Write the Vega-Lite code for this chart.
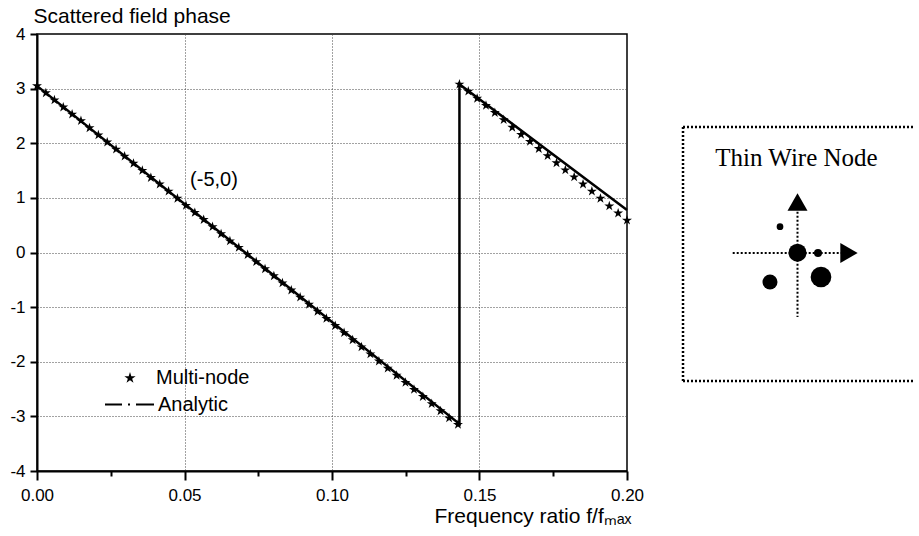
{
  "$schema": "https://vega.github.io/schema/vega-lite/v6.json",
  "background": "white",
  "padding": {"left": 9, "top": 4, "right": 0, "bottom": 0},
  "spacing": 20,
  "bounds": "flush",
  "resolve": {"scale": {"shape": "independent", "size": "independent", "color": "independent"}, "legend": {"shape": "independent", "size": "independent", "color": "independent"}},
  "config": {"font": "Liberation Sans", "view": {"stroke": null}},
  "datasets": {
    "analytic": [
      {"i": 0, "f": 0, "phase": 3.05, "lseries": "Analytic"},
      {"i": 1, "f": 0.1432, "phase": -3.14, "lseries": "Analytic"},
      {"i": 2, "f": 0.1432, "phase": 3.08, "lseries": "Analytic"},
      {"i": 3, "f": 0.2, "phase": 0.78, "lseries": "Analytic"}
    ],
    "multinode": [
      {"f": 0, "phase": 3.05, "series": "Multi-node"},
      {"f": 0.0030, "phase": 2.92, "series": "Multi-node"},
      {"f": 0.0059, "phase": 2.79, "series": "Multi-node"},
      {"f": 0.0089, "phase": 2.66, "series": "Multi-node"},
      {"f": 0.0119, "phase": 2.53, "series": "Multi-node"},
      {"f": 0.0149, "phase": 2.41, "series": "Multi-node"},
      {"f": 0.0178, "phase": 2.28, "series": "Multi-node"},
      {"f": 0.0208, "phase": 2.15, "series": "Multi-node"},
      {"f": 0.0238, "phase": 2.02, "series": "Multi-node"},
      {"f": 0.0268, "phase": 1.89, "series": "Multi-node"},
      {"f": 0.0297, "phase": 1.76, "series": "Multi-node"},
      {"f": 0.0327, "phase": 1.63, "series": "Multi-node"},
      {"f": 0.0357, "phase": 1.50, "series": "Multi-node"},
      {"f": 0.0386, "phase": 1.37, "series": "Multi-node"},
      {"f": 0.0416, "phase": 1.25, "series": "Multi-node"},
      {"f": 0.0446, "phase": 1.12, "series": "Multi-node"},
      {"f": 0.0476, "phase": 0.99, "series": "Multi-node"},
      {"f": 0.0505, "phase": 0.86, "series": "Multi-node"},
      {"f": 0.0535, "phase": 0.73, "series": "Multi-node"},
      {"f": 0.0565, "phase": 0.60, "series": "Multi-node"},
      {"f": 0.0595, "phase": 0.47, "series": "Multi-node"},
      {"f": 0.0624, "phase": 0.34, "series": "Multi-node"},
      {"f": 0.0654, "phase": 0.21, "series": "Multi-node"},
      {"f": 0.0684, "phase": 0.09, "series": "Multi-node"},
      {"f": 0.0714, "phase": -0.04, "series": "Multi-node"},
      {"f": 0.0743, "phase": -0.17, "series": "Multi-node"},
      {"f": 0.0773, "phase": -0.30, "series": "Multi-node"},
      {"f": 0.0803, "phase": -0.43, "series": "Multi-node"},
      {"f": 0.0832, "phase": -0.56, "series": "Multi-node"},
      {"f": 0.0862, "phase": -0.69, "series": "Multi-node"},
      {"f": 0.0892, "phase": -0.82, "series": "Multi-node"},
      {"f": 0.0922, "phase": -0.95, "series": "Multi-node"},
      {"f": 0.0951, "phase": -1.08, "series": "Multi-node"},
      {"f": 0.0981, "phase": -1.21, "series": "Multi-node"},
      {"f": 0.1011, "phase": -1.34, "series": "Multi-node"},
      {"f": 0.1041, "phase": -1.47, "series": "Multi-node"},
      {"f": 0.1070, "phase": -1.60, "series": "Multi-node"},
      {"f": 0.1100, "phase": -1.73, "series": "Multi-node"},
      {"f": 0.1130, "phase": -1.86, "series": "Multi-node"},
      {"f": 0.1159, "phase": -1.99, "series": "Multi-node"},
      {"f": 0.1189, "phase": -2.12, "series": "Multi-node"},
      {"f": 0.1219, "phase": -2.25, "series": "Multi-node"},
      {"f": 0.1249, "phase": -2.38, "series": "Multi-node"},
      {"f": 0.1278, "phase": -2.51, "series": "Multi-node"},
      {"f": 0.1308, "phase": -2.64, "series": "Multi-node"},
      {"f": 0.1338, "phase": -2.77, "series": "Multi-node"},
      {"f": 0.1368, "phase": -2.90, "series": "Multi-node"},
      {"f": 0.1397, "phase": -3.03, "series": "Multi-node"},
      {"f": 0.1427, "phase": -3.15, "series": "Multi-node"},
      {"f": 0.1432, "phase": 3.08, "series": "Multi-node"},
      {"f": 0.1462, "phase": 2.95, "series": "Multi-node"},
      {"f": 0.1492, "phase": 2.82, "series": "Multi-node"},
      {"f": 0.1522, "phase": 2.69, "series": "Multi-node"},
      {"f": 0.1552, "phase": 2.56, "series": "Multi-node"},
      {"f": 0.1582, "phase": 2.43, "series": "Multi-node"},
      {"f": 0.1611, "phase": 2.29, "series": "Multi-node"},
      {"f": 0.1641, "phase": 2.16, "series": "Multi-node"},
      {"f": 0.1671, "phase": 2.03, "series": "Multi-node"},
      {"f": 0.1701, "phase": 1.90, "series": "Multi-node"},
      {"f": 0.1731, "phase": 1.77, "series": "Multi-node"},
      {"f": 0.1761, "phase": 1.64, "series": "Multi-node"},
      {"f": 0.1791, "phase": 1.51, "series": "Multi-node"},
      {"f": 0.1821, "phase": 1.38, "series": "Multi-node"},
      {"f": 0.1851, "phase": 1.25, "series": "Multi-node"},
      {"f": 0.1881, "phase": 1.12, "series": "Multi-node"},
      {"f": 0.1910, "phase": 0.99, "series": "Multi-node"},
      {"f": 0.1940, "phase": 0.85, "series": "Multi-node"},
      {"f": 0.1970, "phase": 0.72, "series": "Multi-node"},
      {"f": 0.2000, "phase": 0.59, "series": "Multi-node"}
    ],
    "annotation": [{"f": 0.06, "phase": 1.33, "label": "(-5,0)"}],
    "boxlines": [
      {"u": 36, "v": 93, "u2": 268, "v2": 93},
      {"u": 36, "v": 93, "u2": 36, "v2": 347},
      {"u": 36, "v": 347, "u2": 268, "v2": 347}
    ],
    "axislines": [
      {"u": 85.7, "v": 219, "u2": 194, "v2": 219},
      {"u": 150.5, "v": 177.7, "u2": 150.5, "v2": 283}
    ],
    "arrows": [
      {"u": 150.5, "v": 168, "dir": "up"},
      {"u": 202, "v": 219, "dir": "right"}
    ],
    "nodes": [
      {"u": 150.5, "v": 218.7, "d": 18},
      {"u": 133, "v": 192.7, "d": 6.7},
      {"u": 171, "v": 219, "d": 8},
      {"u": 123, "v": 248, "d": 15},
      {"u": 174, "v": 243, "d": 20.7}
    ],
    "boxlabel": [{"u": 149.5, "v": 132, "label": "Thin Wire Node"}]
  },
  "hconcat": [
    {
      "width": 590,
      "height": 437,
      "view": {"stroke": "black", "strokeWidth": 1.5},
      "layer": [
        {
          "data": {"name": "analytic"},
          "mark": {"type": "line", "strokeWidth": 2.5},
          "encoding": {
            "x": {
              "field": "f", "type": "quantitative",
              "scale": {"domain": [0, 0.2], "nice": false, "zero": false},
              "axis": {
                "values": [0, 0.025, 0.05, 0.075, 0.1, 0.125, 0.15, 0.175, 0.2],
                "labelExpr": "abs(datum.value*20 - round(datum.value*20)) < 0.001 ? format(datum.value, '.2f') : ''",
                "tickSize": {"condition": {"test": "abs(datum.value*20 - round(datum.value*20)) < 0.001", "value": 9}, "value": 5},
                "gridOpacity": {"condition": {"test": "abs(datum.value*20 - round(datum.value*20)) < 0.001 && datum.value > 0.01 && datum.value < 0.19", "value": 1}, "value": 0},
                "grid": true,
                "gridDash": [1, 2],
                "gridColor": "#444",
                "gridWidth": 1,
                "tickColor": "black",
                "tickWidth": 2,
                "domainColor": "black",
                "domainWidth": 2,
                "labelFontSize": 17,
                "labelColor": "black",
                "labelPadding": 7,
                "labelFlush": false,
                "labelOverlap": false,
                "labelBound": false,
                "title": "Frequency ratio f/fₘₐₓ",
                "titleFontSize": 21,
                "titleFontWeight": "normal",
                "titleColor": "black",
                "titleAlign": "right",
                "titleBaseline": "alphabetic",
                "titleX": 594,
                "titleY": 51
              }
            },
            "y": {
              "field": "phase", "type": "quantitative",
              "scale": {"domain": [-4, 4], "nice": false, "zero": false},
              "axis": {
                "values": [-4, -3.5, -3, -2.5, -2, -1.5, -1, -0.5, 0, 0.5, 1, 1.5, 2, 2.5, 3, 3.5, 4],
                "labelExpr": "datum.value % 1 == 0 ? '' + datum.value : ''",
                "tickSize": {"condition": {"test": "datum.value % 1 == 0", "value": 7}, "value": 4},
                "gridOpacity": {"condition": {"test": "datum.value % 1 == 0 && abs(datum.value) < 3.9", "value": 1}, "value": 0},
                "grid": true,
                "gridDash": [1, 2],
                "gridColor": "#444",
                "gridWidth": 1,
                "tickColor": "black",
                "tickWidth": 2,
                "domainColor": "black",
                "domainWidth": 2,
                "labelFontSize": 17,
                "labelColor": "black",
                "labelPadding": 5,
                "labelFlush": false,
                "labelOverlap": false,
                "labelBound": false,
                "title": "Scattered field phase",
                "titleFontSize": 21,
                "titleFontWeight": "normal",
                "titleColor": "black",
                "titleAngle": 0,
                "titleAlign": "left",
                "titleBaseline": "alphabetic",
                "titleX": -4,
                "titleY": -12
              }
            },
            "order": {"field": "i", "type": "quantitative"},
            "color": {
              "field": "lseries", "type": "nominal",
              "scale": {"domain": ["Analytic"], "range": ["black"]},
              "legend": {
                "orient": "none",
                "legendX": 67,
                "legendY": 345,
                "title": null,
                "padding": 0,
                "symbolType": "stroke",
                "symbolSize": 2401,
                "symbolStrokeWidth": 2,
                "symbolStrokeColor": "black",
                "symbolDash": [17, 6, 2, 6, 18],
                "labelFontSize": 20,
                "labelFont": "Liberation Sans",
                "labelColor": "black",
                "labelOffset": 3
              }
            }
          }
        },
        {
          "data": {"name": "multinode"},
          "mark": {"type": "point", "filled": true, "color": "black", "opacity": 1, "size": 110},
          "encoding": {
            "x": {"field": "f", "type": "quantitative"},
            "y": {"field": "phase", "type": "quantitative"},
            "shape": {
              "field": "series", "type": "nominal",
              "scale": {
                "domain": ["Multi-node"],
                "range": ["M0,-1L0.225,-0.309L0.951,-0.309L0.363,0.118L0.588,0.809L0,0.382L-0.588,0.809L-0.363,0.118L-0.951,-0.309L-0.225,-0.309Z"]
              },
              "legend": {
                "orient": "none",
                "legendX": 83,
                "legendY": 334,
                "title": null,
                "padding": 0,
                "symbolSize": 140,
                "symbolFillColor": "black",
                "symbolStrokeWidth": 0,
                "labelFontSize": 20,
                "labelFont": "Liberation Sans",
                "labelColor": "black",
                "labelOffset": 16
              }
            }
          }
        },
        {
          "data": {"name": "annotation"},
          "mark": {"type": "text", "fontSize": 20, "color": "black", "align": "center", "baseline": "middle"},
          "encoding": {
            "x": {"field": "f", "type": "quantitative"},
            "y": {"field": "phase", "type": "quantitative"},
            "text": {"field": "label"}
          }
        }
      ]
    },
    {
      "width": 268,
      "height": 437,
      "view": {"stroke": null},
      "encoding": {
        "x": {"field": "u", "type": "quantitative", "scale": {"domain": [0, 268], "nice": false, "zero": false}, "axis": null},
        "y": {"field": "v", "type": "quantitative", "scale": {"domain": [0, 437], "nice": false, "zero": false, "reverse": true}, "axis": null}
      },
      "layer": [
        {
          "data": {"name": "boxlines"},
          "mark": {"type": "rule", "color": "black", "strokeWidth": 2.5, "strokeDash": [2, 2]},
          "encoding": {"x2": {"field": "u2"}, "y2": {"field": "v2"}}
        },
        {
          "data": {"name": "axislines"},
          "mark": {"type": "rule", "color": "black", "strokeWidth": 2, "strokeDash": [2, 2]},
          "encoding": {"x2": {"field": "u2"}, "y2": {"field": "v2"}}
        },
        {
          "data": {"name": "arrows"},
          "transform": [{"filter": "datum.dir === 'up'"}],
          "mark": {"type": "point", "filled": true, "color": "black", "opacity": 1, "size": 400, "shape": "triangle-up"}
        },
        {
          "data": {"name": "arrows"},
          "transform": [{"filter": "datum.dir === 'right'"}],
          "mark": {"type": "point", "filled": true, "color": "black", "opacity": 1, "size": 400, "shape": "triangle-right"}
        },
        {
          "data": {"name": "nodes"},
          "mark": {"type": "point", "filled": true, "color": "black", "opacity": 1, "shape": "circle"},
          "encoding": {
            "size": {"field": "d", "type": "quantitative", "scale": {"type": "pow", "exponent": 2, "domain": [0, 20], "range": [0, 400]}, "legend": null}
          }
        },
        {
          "data": {"name": "boxlabel"},
          "mark": {"type": "text", "font": "Liberation Serif", "fontSize": 25, "color": "black", "align": "center", "baseline": "alphabetic"},
          "encoding": {"text": {"field": "label"}}
        }
      ]
    }
  ]
}
